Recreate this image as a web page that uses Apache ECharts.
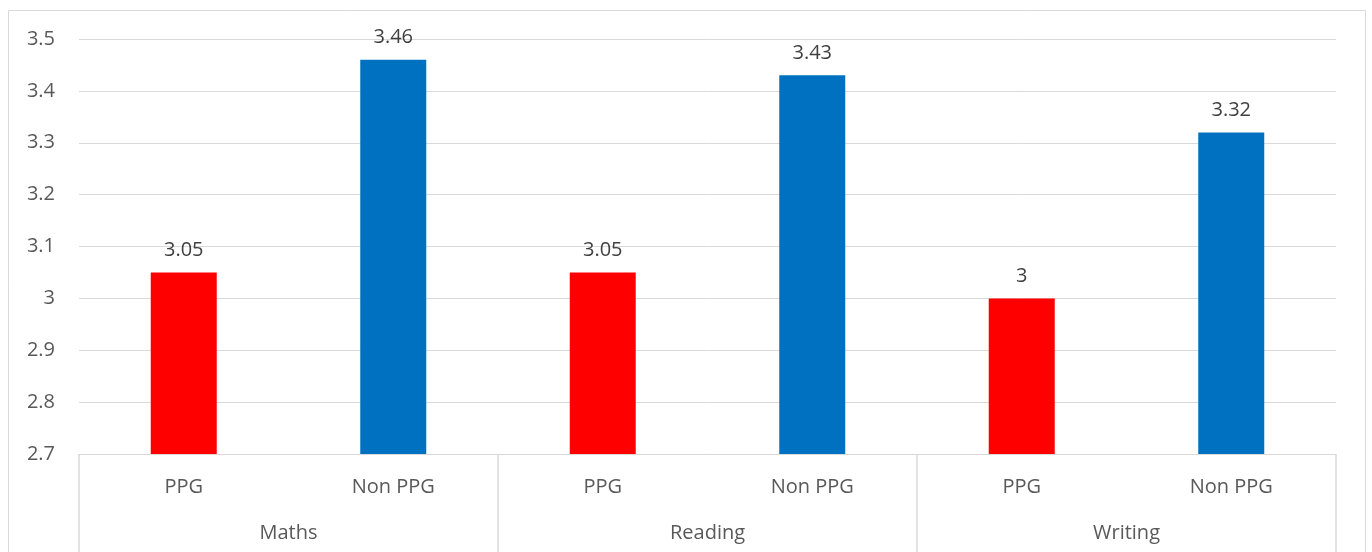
<!DOCTYPE html>
<html>
<head>
<meta charset="utf-8">
<script src="https://cdn.jsdelivr.net/npm/echarts@6/dist/echarts.min.js"></script>
<style>html,body{margin:0;padding:0;background:#fff}#c{width:1372px;height:552px}</style>
</head>
<body>
<div id="c"></div>
<script>
var subCategories = ['PPG', 'Non PPG', 'PPG', 'Non PPG', 'PPG', 'Non PPG'];
var groupCategories = ['Maths', 'Reading', 'Writing'];
var values = [3.05, 3.46, 3.05, 3.43, 3.00, 3.32];
var barColors = ['#ff0000', '#0070c0', '#ff0000', '#0070c0', '#ff0000', '#0070c0'];

var font = '"Open Sans", "Liberation Sans", sans-serif';
var chart = echarts.init(document.getElementById('c'));
chart.setOption({
  animation: false,
  graphic: [{
    type: 'rect', shape: { x: 8.5, y: 10.5, width: 1357, height: 700 },
    style: { fill: 'none', stroke: '#d9d9d9', lineWidth: 1 }, silent: true
  }],
  grid: { left: 79, right: 36, top: 39, bottom: 98 },
  xAxis: [{
    type: 'category', data: subCategories, position: 'bottom',
    axisLine: { show: true, lineStyle: { color: '#d9d9d9' } },
    axisTick: { show: false },
    axisLabel: { color: '#595959', fontFamily: font, fontSize: 20, margin: 23 }
  }, {
    type: 'category', data: groupCategories, position: 'bottom',
    axisLine: { show: false },
    axisTick: { show: true, length: 100, lineStyle: { color: '#d9d9d9', width: 1.5 } },
    axisLabel: { color: '#595959', fontFamily: font, fontSize: 20, margin: 69 }
  }],
  yAxis: {
    type: 'value', min: 2.7, max: 3.5, interval: 0.1,
    axisLine: { show: false }, axisTick: { show: false },
    splitLine: { lineStyle: { color: '#d9d9d9' } },
    axisLabel: { color: '#595959', fontFamily: font, fontSize: 20, margin: 24,
      formatter: function (v) { return String(Math.round(v * 10) / 10); } }
  },
  series: [{
    type: 'bar', xAxisIndex: 0, data: values, barWidth: '31.5%',
    itemStyle: { color: function (p) { return barColors[p.dataIndex]; } },
    label: { show: true, position: 'top', distance: 12, color: '#404040',
      fontFamily: font, fontSize: 20,
      formatter: function (p) { return String(p.value); } }
  }]
});
</script>
</body>
</html>
